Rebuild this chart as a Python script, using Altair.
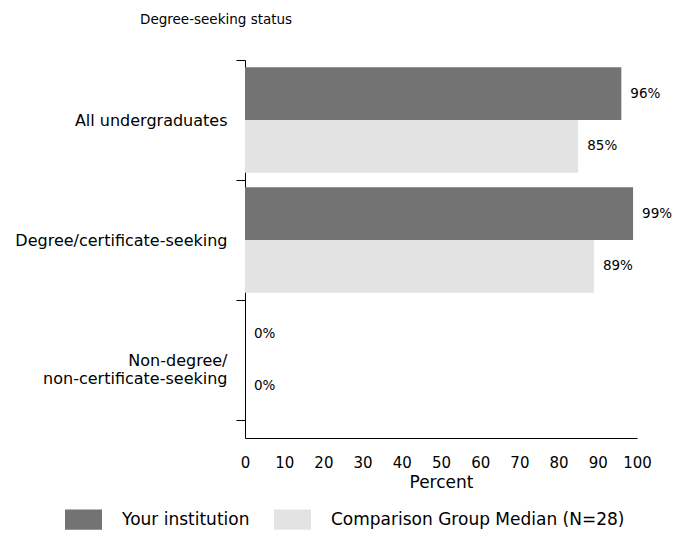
import altair as alt
import pandas as pd

categories = ["All undergraduates", "Degree/certificate-seeking", "Non-degree/ non-certificate-seeking"]
series = ["Your institution", "Comparison Group Median (N=28)"]
institution = [96, 99, 0]
comparison = [85, 89, 0]
x_ticks = [0, 10, 20, 30, 40, 50, 60, 70, 80, 90, 100]

rows = []
for c, a, b in zip(categories, institution, comparison):
    rows.append({"cat": c, "series": series[0], "value": a, "label": f"{a}%"})
    rows.append({"cat": c, "series": series[1], "value": b, "label": f"{b}%"})
df = pd.DataFrame(rows)

FONT = "DejaVu Sans"

y_enc = alt.Y(
    "cat:N",
    sort=categories,
    title=None,
    scale=alt.Scale(paddingInner=0, paddingOuter=0.075, align=0),
    axis=alt.Axis(
        tickBand="extent",
        tickSize=9,
        tickColor="black",
        domainColor="black",
        labelPadding=9,
        labelFont=FONT,
        labelFontSize=16,
        labelColor="black",
        labelLimit=300,
        labelLineHeight=18,
        labelExpr="datum.label == 'Non-degree/ non-certificate-seeking' ? ['Non-degree/', 'non-certificate-seeking'] : datum.label",
    ),
)
yoff = alt.YOffset("series:N", sort=series, scale=alt.Scale(paddingInner=0, paddingOuter=0.14))

x_enc = alt.X(
    "value:Q",
    title="Percent",
    scale=alt.Scale(domain=[0, 100], nice=False),
    axis=alt.Axis(
        values=x_ticks,
        tickCount=11,
        grid=False,
        ticks=False,
        domainColor="black",
        labelPadding=17,
        labelOverlap=False,
        labelFont=FONT,
        labelFontSize=15,
        labelColor="black",
        titleFont=FONT,
        titleFontSize=17,
        titleFontWeight="normal",
        titleColor="black",
        titlePadding=4,
        labelFlush=False,
    ),
)

bars = alt.Chart(df).mark_bar().encode(
    x=x_enc,
    y=y_enc,
    yOffset=yoff,
    color=alt.Color(
        "series:N",
        sort=series,
        scale=alt.Scale(domain=series, range=["#737373", "#e3e3e3"]),
        legend=alt.Legend(
            title=None,
            orient="none",
            direction="horizontal",
            legendX=-180,
            legendY=441,
            symbolType="M-1,-0.55H1V0.55H-1Z",
            symbolSize=1369,
            symbolStrokeWidth=0,
            labelFont=FONT,
            labelFontSize=17,
            labelColor="black",
            labelOffset=20,
            columnPadding=24,
            labelLimit=400,
        ),
    ),
)

text = alt.Chart(df).mark_text(
    align="left", baseline="middle", dx=9, font=FONT, fontSize=13.5, color="black"
).encode(
    x=x_enc,
    y=y_enc,
    yOffset=yoff,
    text="label:N",
)

chart = (
    alt.layer(bars, text)
    .properties(
        width=392,
        height=378,
        padding={"left": 237, "top": 52, "right": 37, "bottom": 92},
        autosize=alt.AutoSizeParams(type="none"),
        title=alt.TitleParams(
            "Degree-seeking status",
            anchor="start",
            frame="group",
            dx=-105,
            offset=26,
            font=FONT,
            fontSize=13.5,
            fontWeight="normal",
            color="black",
        ),
    )
    .configure_view(stroke=None)
)

chart.save("out.html", embed_options={"renderer": "svg", "actions": False})
